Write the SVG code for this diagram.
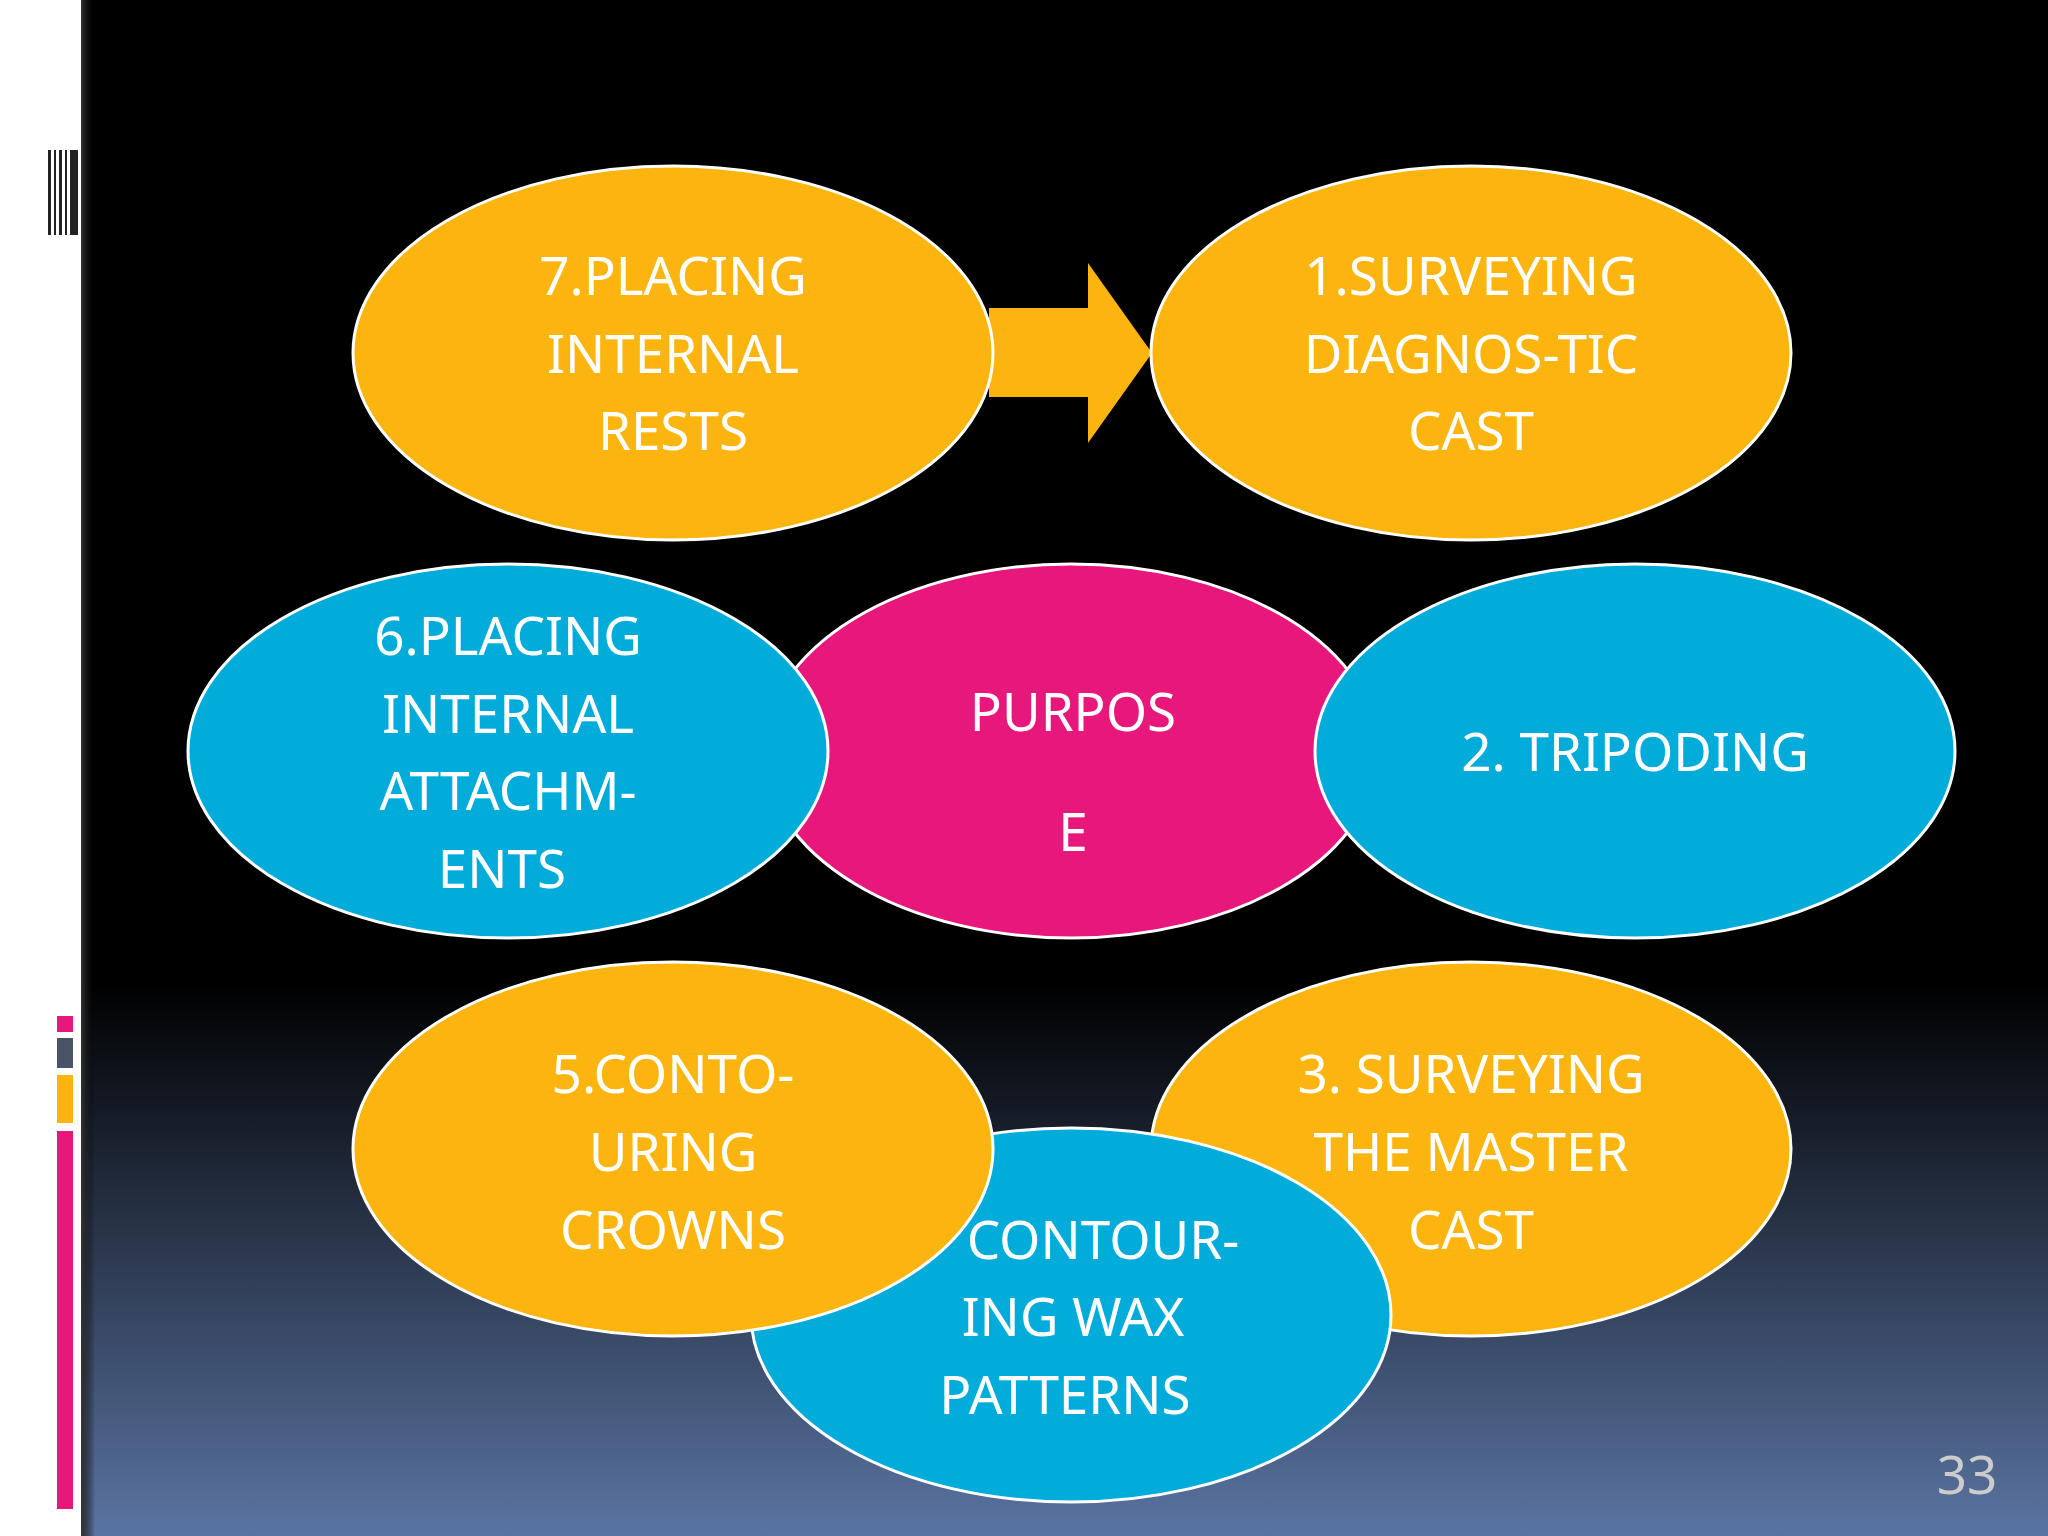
<svg xmlns="http://www.w3.org/2000/svg" width="2048" height="1536" viewBox="0 0 2048 1536">
<defs>
<linearGradient id="bg" x1="0" y1="0" x2="0" y2="1">
<stop offset="0" stop-color="#000"/><stop offset="0.64" stop-color="#000"/><stop offset="1" stop-color="#5a74a2"/>
</linearGradient>
<linearGradient id="sh" x1="0" y1="0" x2="1" y2="0">
<stop offset="0" stop-color="#333"/><stop offset="1" stop-color="#000" stop-opacity="0"/>
</linearGradient>
<style>
.y{fill:#fbb50e;stroke:#fff;stroke-width:3}
.b{fill:#01acdb;stroke:#fff;stroke-width:3}
.p{fill:#e8177b;stroke:#fff;stroke-width:3}
text{font-family:"Noto Sans","Open Sans",sans-serif;fill:#fff;font-size:53px;text-anchor:middle}
</style>
</defs>
<rect width="2048" height="1536" fill="url(#bg)"/>
<rect x="0" y="0" width="81" height="1536" fill="#fff"/>
<rect x="81" y="0" width="14" height="1536" fill="url(#sh)"/>
<g fill="#222">
<rect x="48" y="150" width="3" height="85"/><rect x="54" y="150" width="2" height="85"/><rect x="59" y="150" width="3" height="85"/><rect x="65" y="150" width="2" height="85"/><rect x="70" y="150" width="8" height="85"/>
</g>
<rect x="57" y="1016" width="16" height="16" fill="#e8177b"/>
<rect x="57" y="1038" width="16" height="30" fill="#4a5468"/>
<rect x="57" y="1075" width="16" height="48" fill="#fbb50e"/>
<rect x="57" y="1131" width="16" height="378" fill="#e8177b"/>
<g id="connectors">
<polygon points="989,308 1088,308 1088,263 1152,353 1088,443 1088,397 989,397" fill="#fbb50e"/>
</g>
<g id="n7"><ellipse class="y" cx="673" cy="353" rx="320" ry="187"/>
<text x="673" y="295">7.PLACING</text><text x="673" y="373">INTERNAL</text><text x="673" y="450">RESTS</text></g>
<g id="n1"><ellipse class="y" cx="1471" cy="353" rx="320" ry="187"/>
<text x="1471" y="295">1.SURVEYING</text><text x="1471" y="373">DIAGNOS-TIC</text><text x="1471" y="450">CAST</text></g>
<g id="purpose"><ellipse class="p" cx="1071" cy="751" rx="307" ry="187"/>
<text x="1073" y="731" font-size="98">PURPOS</text><text x="1073" y="851" font-size="98">E</text></g>
<g id="n6"><ellipse class="b" cx="508" cy="751" rx="320" ry="187"/>
<text x="508" y="655">6.PLACING</text><text x="508" y="733">INTERNAL</text><text x="508" y="810">ATTACHM-</text><text x="502" y="888">ENTS</text></g>
<g id="n2"><ellipse class="b" cx="1635" cy="751" rx="320" ry="187"/>
<text x="1635" y="771">2. TRIPODING</text></g>
<g id="n3"><ellipse class="y" cx="1471" cy="1149" rx="320" ry="187"/>
<text x="1471" y="1093">3. SURVEYING</text><text x="1471" y="1171">THE MASTER</text><text x="1471" y="1249">CAST</text></g>
<g id="n4"><ellipse class="b" cx="1071" cy="1315" rx="320" ry="187"/></g>
<g id="n5"><ellipse class="y" cx="673" cy="1149" rx="320" ry="187"/>
<text x="673" y="1093">5.CONTO-</text><text x="673" y="1171">URING</text><text x="673" y="1249">CROWNS</text></g>
<g id="n4text"><text x="1103" y="1259">CONTOUR-</text><text x="1073" y="1336">ING WAX</text><text x="1065" y="1414">PATTERNS</text></g>
<text x="1967" y="1494" font-size="31" fill="#ccc" style="fill:#ccc">33</text>
</svg>
